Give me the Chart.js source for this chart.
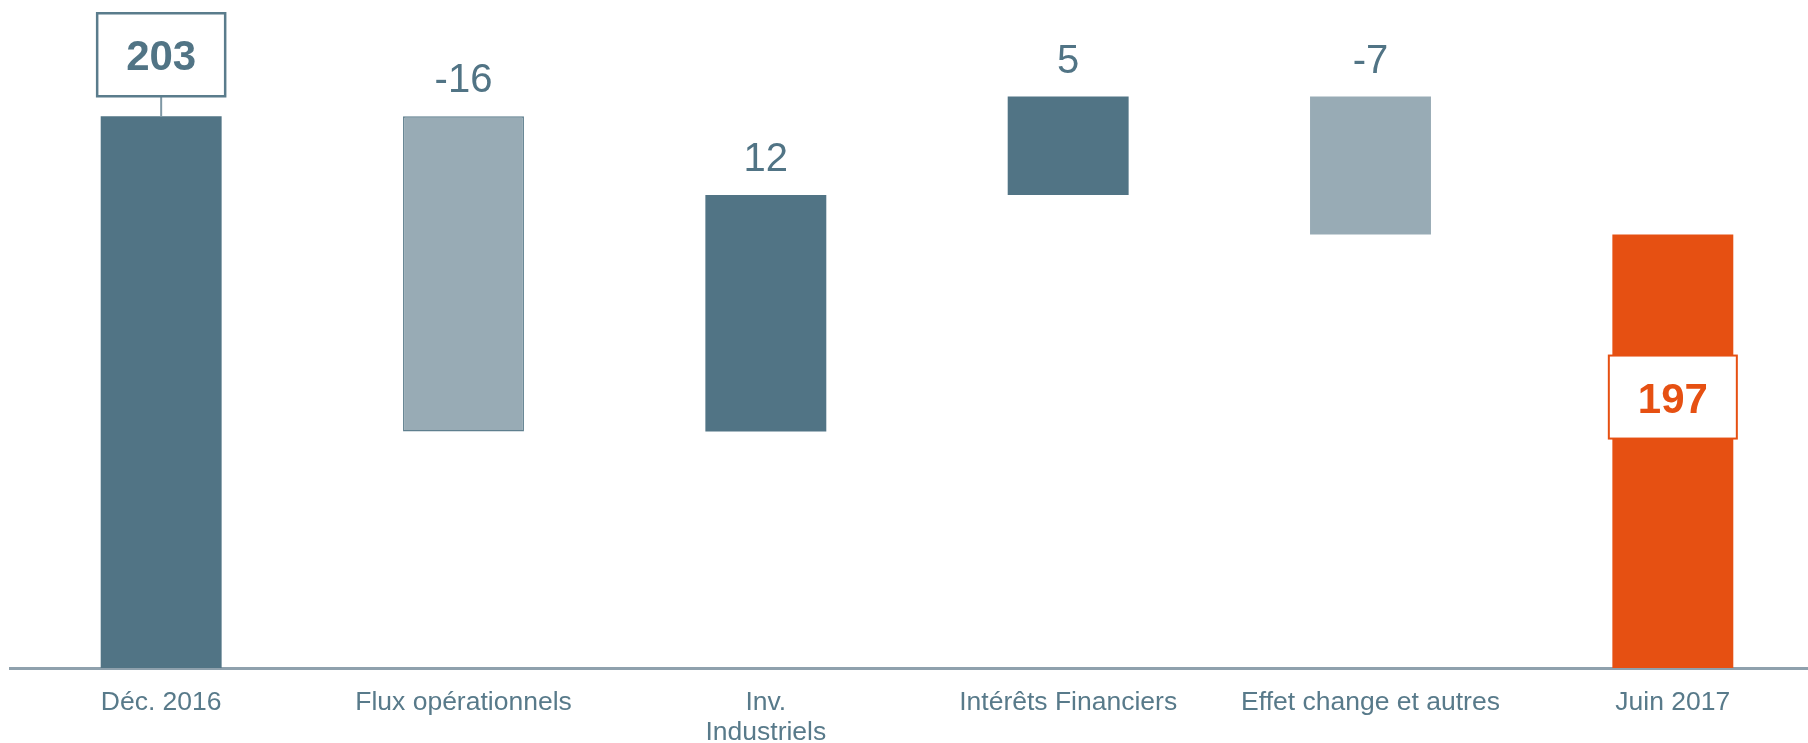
<!DOCTYPE html>
<html lang="fr">
<head>
<meta charset="utf-8">
<title>Dette nette</title>
<script src="https://cdn.jsdelivr.net/npm/chart.js@4.4.1/dist/chart.umd.min.js"></script>
<style>
  html, body { margin: 0; padding: 0; background: #fff; overflow: hidden; }
  #wrap { position: absolute; left: 0; top: 0; width: 1824px; height: 743px; }
</style>
</head>
<body>
<div id="wrap"><canvas id="chart"></canvas></div>
<script>
// données du graphique
const categories = ['Déc. 2016', 'Flux opérationnels', ['Inv.', 'Industriels'], 'Intérêts Financiers', 'Effet change et autres', 'Juin 2017'];
const values = [203, -16, 12, 5, -7, 197];
const isTotal = [true, false, false, false, false, true];
const axisMin = 175;
const axisMax = 208.9;

const DARK = '#517485';
const LIGHT = '#98ABB5';
const ORANGE = '#E65012';
const FONT = "'Liberation Sans', Arial, sans-serif";

// barres flottantes de la cascade
const ranges = [];
let running = 0;
values.forEach((v, i) => {
  if (isTotal[i]) {
    ranges.push([0, v]);
    running = v;
  } else {
    ranges.push([running, running + v]);
    running += v;
  }
});

const colors = values.map((v, i) => {
  if (i === values.length - 1) return ORANGE;
  if (isTotal[i]) return DARK;
  return v < 0 ? LIGHT : DARK;
});

const labelsPlugin = {
  id: 'waterfallLabels',
  afterDatasetsDraw(chart) {
    const ctx = chart.ctx;
    const area = chart.chartArea;
    const meta = chart.getDatasetMeta(0);
    ctx.save();
    meta.data.forEach((bar, i) => {
      const top = Math.min(bar.y, bar.base);
      const bottom = Math.min(Math.max(bar.y, bar.base), area.bottom);
      const x = bar.x;
      const v = values[i];
      if (isTotal[i]) {
        const last = i === values.length - 1;
        const color = last ? ORANGE : '#5A7C8C';
        const w = 128, h = 83;
        let cy;
        if (last) {
          cy = top + (bottom - top) * 0.375;
        } else {
          cy = top - 20 - h / 2;
          ctx.strokeStyle = '#7E97A4';
          ctx.lineWidth = 2;
          ctx.beginPath();
          ctx.moveTo(x, cy + h / 2);
          ctx.lineTo(x, top);
          ctx.stroke();
        }
        ctx.fillStyle = '#fff';
        ctx.fillRect(x - w / 2, cy - h / 2, w, h);
        ctx.strokeStyle = color;
        ctx.lineWidth = last ? 2 : 2.5;
        ctx.strokeRect(x - w / 2, cy - h / 2, w, h);
        ctx.fillStyle = last ? ORANGE : DARK;
        ctx.font = 'bold 42px ' + FONT;
        ctx.textAlign = 'center';
        ctx.textBaseline = 'alphabetic';
        ctx.fillText(String(v), x, cy + 15.5);
      } else {
        ctx.fillStyle = DARK;
        ctx.font = '40px ' + FONT;
        ctx.textAlign = 'center';
        ctx.textBaseline = 'alphabetic';
        ctx.fillText(String(v), x, top - 24);
      }
    });
    ctx.restore();
  }
};

new Chart(document.getElementById('chart'), {
  type: 'bar',
  data: {
    labels: categories,
    datasets: [{
      data: ranges,
      backgroundColor: colors,
      borderColor: values.map((v, i) => (!isTotal[i] && v < 0 && i === 1) ? '#5F7F8E' : 'rgba(0,0,0,0)'),
      borderWidth: values.map((v, i) => (!isTotal[i] && v < 0 && i === 1) ? 1.5 : 0),
      borderSkipped: false,
      barPercentage: 0.4,
      categoryPercentage: 1
    }]
  },
  options: {
    responsive: true,
    maintainAspectRatio: false,
    animation: false,
    devicePixelRatio: 1,
    layout: { padding: { left: 10, right: 0, top: 0, bottom: 0 } },
    plugins: {
      legend: { display: false },
      tooltip: { enabled: false }
    },
    scales: {
      x: {
        grid: { display: false, drawTicks: false },
        border: { display: true, color: '#8FA1AD', width: 3 },
        ticks: {
          color: '#587A8A',
          font: { family: FONT, size: 26.5, lineHeight: 1.16 },
          padding: 19,
          maxRotation: 0,
          autoSkip: false
        },
        afterFit(scale) { scale.height = 75; }
      },
      y: {
        display: false,
        min: axisMin,
        max: axisMax
      }
    }
  },
  plugins: [labelsPlugin]
});
</script>
</body>
</html>
